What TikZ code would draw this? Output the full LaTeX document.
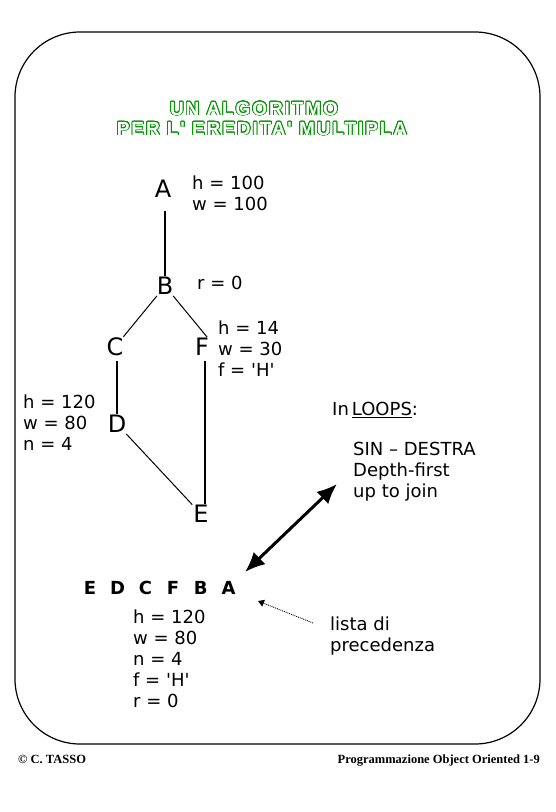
\documentclass[tikz,border=0pt]{standalone}
\usepackage{fontspec}
\setmainfont{DejaVu Sans}[Ligatures=TeXOff]
\newfontfamily\footfont{Liberation Serif}
\newfontfamily\titlefont[LetterSpace=10]{Liberation Sans}
\usepackage{contour}
\usetikzlibrary{arrows.meta, positioning, calc}
\definecolor{titlegreen}{RGB}{0,150,0}
\contourlength{0.8pt}
\contournumber{24}

\begin{document}
\begin{tikzpicture}[x=1pt, y=-1pt,
    cls/.style={font=\fontsize{24}{24}\selectfont, inner sep=1pt},
    attr/.style={anchor=north west, inner sep=0pt, align=left, font=\fontsize{18}{20.8}\selectfont},
    title/.style={font=\titlefont\bfseries\fontsize{19}{20}\selectfont, inner sep=0pt},
    foot/.style={font=\footfont\bfseries\fontsize{12.5}{13}\selectfont, inner sep=0pt},
    vline/.style={line width=2pt},
    dline/.style={line width=1pt},
    joinarrow/.style={{Latex[length=20pt,width=17pt]}-{Latex[length=20pt,width=17pt]}, line width=3pt},
    hint/.style={-{Triangle[length=6pt,width=7pt]}, densely dotted, line width=0.9pt}
]
\useasboundingbox (0,0) rectangle (556,812);

% Frame
\draw[line width=1.2pt, rounded corners=65] (15,32) rectangle (540,744);

% Title
\node[title] (t1) at (254,109) {\contour{titlegreen}{\color{white}UN ALGORITMO}};
\node[title] (t2) at (262,129) {\contour{titlegreen}{\color{white}PER L' EREDITA' MULTIPLA}};

% Classes
\node[cls] (A) at (163,189) {A};
\node[cls] (B) at (165,286) {B};
\node[cls] (C) at (115,347) {C};
\node[cls] (F) at (202,347) {F};
\node[cls] (D) at (117,424) {D};
\node[cls] (E) at (201,514) {E};

% Attributes
\node[attr] (aA) at (192,176) {h = 100\\w = 100};
\node[attr] (aB) at (197,276) {r = 0};
\node[attr] (aF) at (218,321) {h = 14\\w = 30\\f = 'H'};
\node[attr] (aD) at (23,395) {h = 120\\w = 80\\n = 4};

% Inheritance
\draw[vline] (A.south -| B) ++(0,12) -- (B.north);
\draw[dline] (B) -- (C);
\draw[dline] (B) -- ([xshift=-3pt]F.north east);
\draw[vline] (C.south -| D) ++(0,4) -- (D.north);
\draw[dline] (D) -- (E);
\draw[vline] ([xshift=3pt]F.south) ++(0,4) -- ([xshift=3pt]F.south |- E.north);

% Loops note
\node[attr] (loops) at (332,402) {In\,\underline{LOOPS}:};
\node[attr] (rule) at (353,442) {SIN – DESTRA\\Depth-first\\up to join};

% Precedence list
\foreach \c [count=\i] in {E,D,C,F,B,A} {
    \node[font=\bfseries\fontsize{18}{18}\selectfont, inner sep=0pt] (l\i) at ({90+27.7*(\i-1)},588) {\c};
}
\node[attr] (res) at (133,610) {h = 120\\w = 80\\n = 4\\f = 'H'\\r = 0};
\node[attr] (lista) at (330,617) {lista di\\precedenza};

\coordinate (jl) at (245,572);
\coordinate (jr) at (337,484);
\draw[joinarrow] (jl) -- (jr);

\coordinate (lp) at (313,623);
\coordinate (hp) at (258,601);
\draw[hint] (lp) -- (hp);

% Footer
\node[foot, anchor=base west] (copy) at (18,763) {\textcopyright\ C. TASSO};
\node[foot, anchor=base east] (course) at (540,763) {Programmazione Object Oriented 1-9};
\end{tikzpicture}
\end{document}
